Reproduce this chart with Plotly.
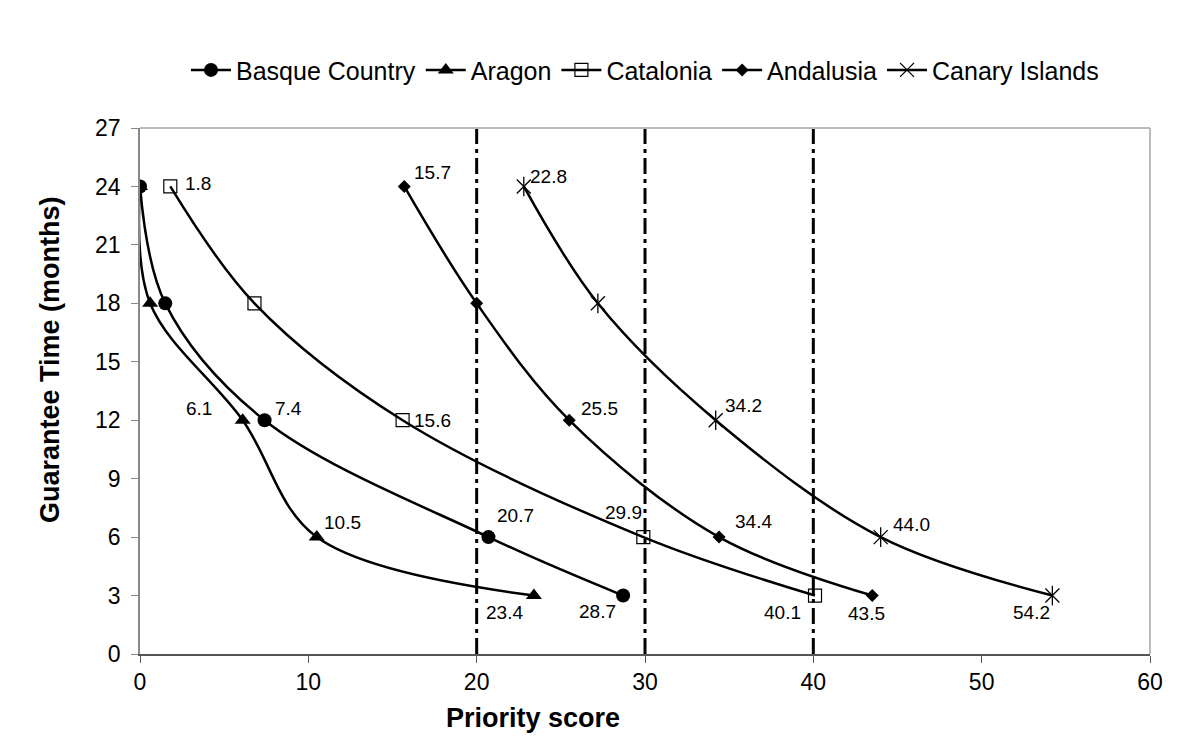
import plotly.graph_objects as go

# guarantee time (months) for each point
months = [24, 18, 12, 6, 3]

# priority score per region
basque = [0, 1.5, 7.4, 20.7, 28.7]
aragon = [0, 0.6, 6.1, 10.5, 23.4]
catalonia = [1.8, 6.8, 15.6, 29.9, 40.1]
andalusia = [15.7, 20.0, 25.5, 34.4, 43.5]
canary = [22.8, 27.2, 34.2, 44.0, 54.2]

cutoffs = [20, 30, 40]

FONT = "Liberation Sans, Arial, sans-serif"

fig = go.Figure()

series = [
    ("Basque Country", basque, dict(symbol="circle", size=14)),
    ("Aragon", aragon, dict(symbol="triangle-up", size=14)),
    ("Catalonia", catalonia, dict(symbol="square-open", size=13, line=dict(color="#444", width=1.2))),
    ("Andalusia", andalusia, dict(symbol="diamond", size=10)),
    ("Canary Islands", canary, dict(symbol="x-thin-open", size=14, line=dict(color="black", width=1.3))),
]

# vertical cut-off lines
for c in cutoffs:
    fig.add_trace(go.Scatter(x=[c, c], y=[0, 27], mode="lines", showlegend=False,
                             line=dict(color="black", width=3, dash="16px,5px,4px,5px"),
                             hoverinfo="skip"))

for name, xs, mk in series:
    fig.add_trace(go.Scatter(x=xs, y=months, name=name, mode="lines+markers",
                             line=dict(color="black", width=2.5, shape="spline", smoothing=1.0),
                             marker=dict(color="black", **mk)))

# the star marker also has a vertical stroke
fig.add_trace(go.Scatter(x=canary, y=months, mode="markers", showlegend=False,
                         marker=dict(symbol="line-ns-open", size=14, color="black",
                                     line=dict(color="black", width=1.3))))

# data labels: (value, y, xshift, yshift)
labels = [
    (7.4, 12, 24, 12), (20.7, 6, 27, 22), (28.7, 3, -26, -16),
    (6.1, 12, -44, 12), (10.5, 6, 26, 15), (23.4, 3, -29, -17),
    (1.8, 24, 28, 3), (15.6, 12, 30, 0), (29.9, 6, -20, 25), (40.1, 3, -33, -17),
    (15.7, 24, 28, 14), (25.5, 12, 30, 12), (34.4, 6, 34, 16), (43.5, 3, -6, -18),
    (22.8, 24, 25, 10), (34.2, 12, 28, 15), (44.0, 6, 31, 13), (54.2, 3, -21, -17),
]
for v, yv, dx, dy in labels:
    fig.add_annotation(x=v, y=yv, text=f"{v:.1f}", showarrow=False, xshift=dx, yshift=dy,
                       font=dict(family=FONT, size=19, color="black"))

# axis titles
fig.add_annotation(xref="paper", yref="paper", x=0.389, y=0, yshift=-64, showarrow=False,
                   xanchor="center", yanchor="middle",
                   text="<b>Priority score</b>", font=dict(family=FONT, size=27, color="black"))
fig.add_annotation(xref="paper", yref="paper", x=0, y=0.559, xshift=-90, showarrow=False,
                   xanchor="center", yanchor="middle",
                   textangle=-90, text="<b>Guarantee Time (months)</b>",
                   font=dict(family=FONT, size=27, color="black"))

fig.update_layout(
    width=1184, height=734,
    paper_bgcolor="white", plot_bgcolor="white",
    margin=dict(l=132, r=42, t=120, b=88),
    font=dict(family=FONT, color="black"),
    legend=dict(orientation="h", x=0.5, xanchor="center", y=1.11, yanchor="middle",
                font=dict(size=25, family=FONT), itemwidth=40, traceorder="normal"),
    showlegend=True,
)
fig.update_xaxes(range=[0, 60], tick0=0, dtick=10, showgrid=False, zeroline=False,
                 showline=True, linecolor="#555", linewidth=1.5, mirror=False,
                 ticks="outside", ticklen=7, tickcolor="#555",
                 tickfont=dict(size=23, family=FONT))
fig.update_yaxes(range=[0, 27], tick0=0, dtick=3, showgrid=False, zeroline=False,
                 showline=True, linecolor="#888", linewidth=1.5,
                 ticks="outside", ticklen=7, tickcolor="#888", ticklabelstandoff=6,
                 tickfont=dict(size=23, family=FONT))

# light border on top and right of the plot area
fig.add_shape(type="line", xref="paper", yref="paper", x0=0, x1=1, y0=1, y1=1,
              line=dict(color="#bbb", width=2))
fig.add_shape(type="line", xref="paper", yref="paper", x0=1, x1=1, y0=0, y1=1,
              line=dict(color="#bbb", width=2))

fig.write_html("out.html")
